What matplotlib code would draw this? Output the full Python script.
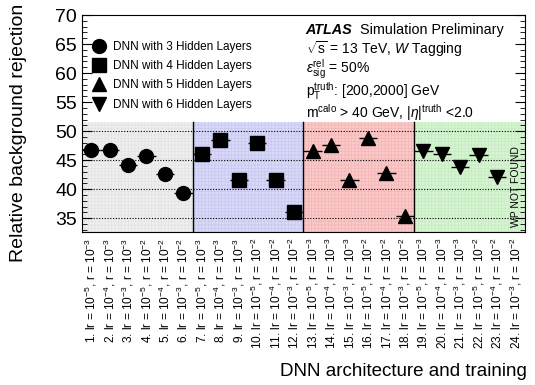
import numpy as np
import matplotlib.pyplot as plt

# background rejection, one list per architecture
rej_3 = [46.7, 46.7, 44.1, 45.8, 42.7, 39.3]
rej_4 = [46.1, 48.4, 41.5, 47.9, 41.6, 36.0]
rej_5 = [46.5, 47.6, 41.5, 48.9, 42.8, 35.3]
rej_6 = [46.5, 46.0, 43.9, 45.9, 42.1]  # last working point not found

lr_vals = ['-5', '-4', '-3', '-5', '-4', '-3']
r_vals = ['-3', '-3', '-3', '-2', '-2', '-2']
tick_labels = ['%d. lr = $10^{%s}$, r = $10^{%s}$' % (i + 1, lr_vals[i % 6], r_vals[i % 6])
               for i in range(24)]

series = [
    (rej_3, 'o', 'DNN with 3 Hidden Layers'),
    (rej_4, 's', 'DNN with 4 Hidden Layers'),
    (rej_5, '^', 'DNN with 5 Hidden Layers'),
    (rej_6, 'v', 'DNN with 6 Hidden Layers'),
]
band_face = ['#eeeeee', '#d8d8f8', '#fbc8c8', '#d6f4d2']
band_hatch = ['#e2e2e2', '#c6c6ee', '#f2b4b4', '#c4eac0']

plt.rcParams['font.family'] = ['Liberation Sans', 'DejaVu Sans']
plt.rcParams['hatch.linewidth'] = 0.4
plt.rcParams['mathtext.fontset'] = 'custom'
plt.rcParams['mathtext.rm'] = 'Liberation Sans'
plt.rcParams['mathtext.it'] = 'Liberation Sans:italic'

fig = plt.figure(figsize=(5.35, 3.85), dpi=100)
ax = fig.add_axes([0.153, 0.397, 0.828, 0.564])

band_top = 51.5
ymin = 32.6
for k in range(4):
    ax.fill_between([6 * k, 6 * k + 6], ymin, band_top, facecolor=band_face[k],
                    edgecolor=band_hatch[k], hatch='+++++', linewidth=0, zorder=0)
for b in [6, 12, 18]:
    ax.plot([b, b], [ymin, band_top], color='black', lw=1.0, zorder=1)
for g in [35, 40, 45, 50]:
    ax.axhline(g, color='black', ls=(0, (1, 1.5)), lw=0.8, zorder=1)

handles = []
for k, (vals, mk, name) in enumerate(series):
    x = np.arange(len(vals)) + 6 * k + 0.5
    ax.errorbar(x, vals, xerr=0.5, fmt='none', ecolor='black', elinewidth=1, zorder=2)
    h, = ax.plot(x, vals, linestyle='none', marker=mk, color='black', markersize=10, zorder=3)
    handles.append(h)

ax.legend(handles, [s[2] for s in series], loc='upper left', bbox_to_anchor=(-0.005, 0.93),
          frameon=False, fontsize=8.5, handletextpad=0.5, labelspacing=0.62,
          handlelength=1.4, markerscale=1.0)

ax.text(23.5, 40.5, 'WP NOT FOUND', fontsize=7.5, rotation=90, ha='center', va='center')

tx = 0.505
fs = 10.0
ax.text(tx, 0.93, 'ATLAS', transform=ax.transAxes, fontsize=fs + 0.4,
        fontweight='bold', fontstyle='italic', va='center')
ax.text(tx + 0.122, 0.93, 'Simulation Preliminary', transform=ax.transAxes,
        fontsize=fs + 0.4, va='center')
ax.text(tx, 0.842, r'$\sqrt{\mathrm{s}}$ = 13 TeV, $\mathit{W}$ Tagging', transform=ax.transAxes,
        fontsize=fs, va='center')
ax.text(tx, 0.752, r'$\epsilon_{\mathrm{sig}}^{\mathrm{rel}}$ = 50%', transform=ax.transAxes,
        fontsize=fs, va='center')
ax.text(tx, 0.650, r'p$_{\mathrm{T}}^{\mathrm{truth}}$: [200,2000] GeV', transform=ax.transAxes,
        fontsize=fs, va='center')
ax.text(tx, 0.553, r'm$^{\mathrm{calo}}$ > 40 GeV, |$\eta$|$^{\mathrm{truth}}$ <2.0',
        transform=ax.transAxes, fontsize=fs, va='center')

ax.set_xlim(0, 24)
ax.set_ylim(ymin, 70)
ax.set_yticks(np.arange(35, 71, 5))
ax.set_yticks(np.arange(33, 71, 1), minor=True)
ax.tick_params(axis='y', which='both', direction='in', right=True, labelsize=14)
ax.tick_params(axis='y', which='major', length=7)
ax.tick_params(axis='y', which='minor', length=3.5)
ax.set_xticks(np.arange(24) + 0.5)
ax.set_xticklabels(tick_labels, rotation=90, fontsize=8.6)
ax.tick_params(axis='x', length=0, pad=4)

fig.text(0.035, 0.655, 'Relative background rejection', rotation=90, fontsize=14,
         ha='center', va='center')
fig.text(0.985, 0.012, 'DNN architecture and training', fontsize=13.5, ha='right', va='bottom')

fig.savefig('out.png', dpi=100)
